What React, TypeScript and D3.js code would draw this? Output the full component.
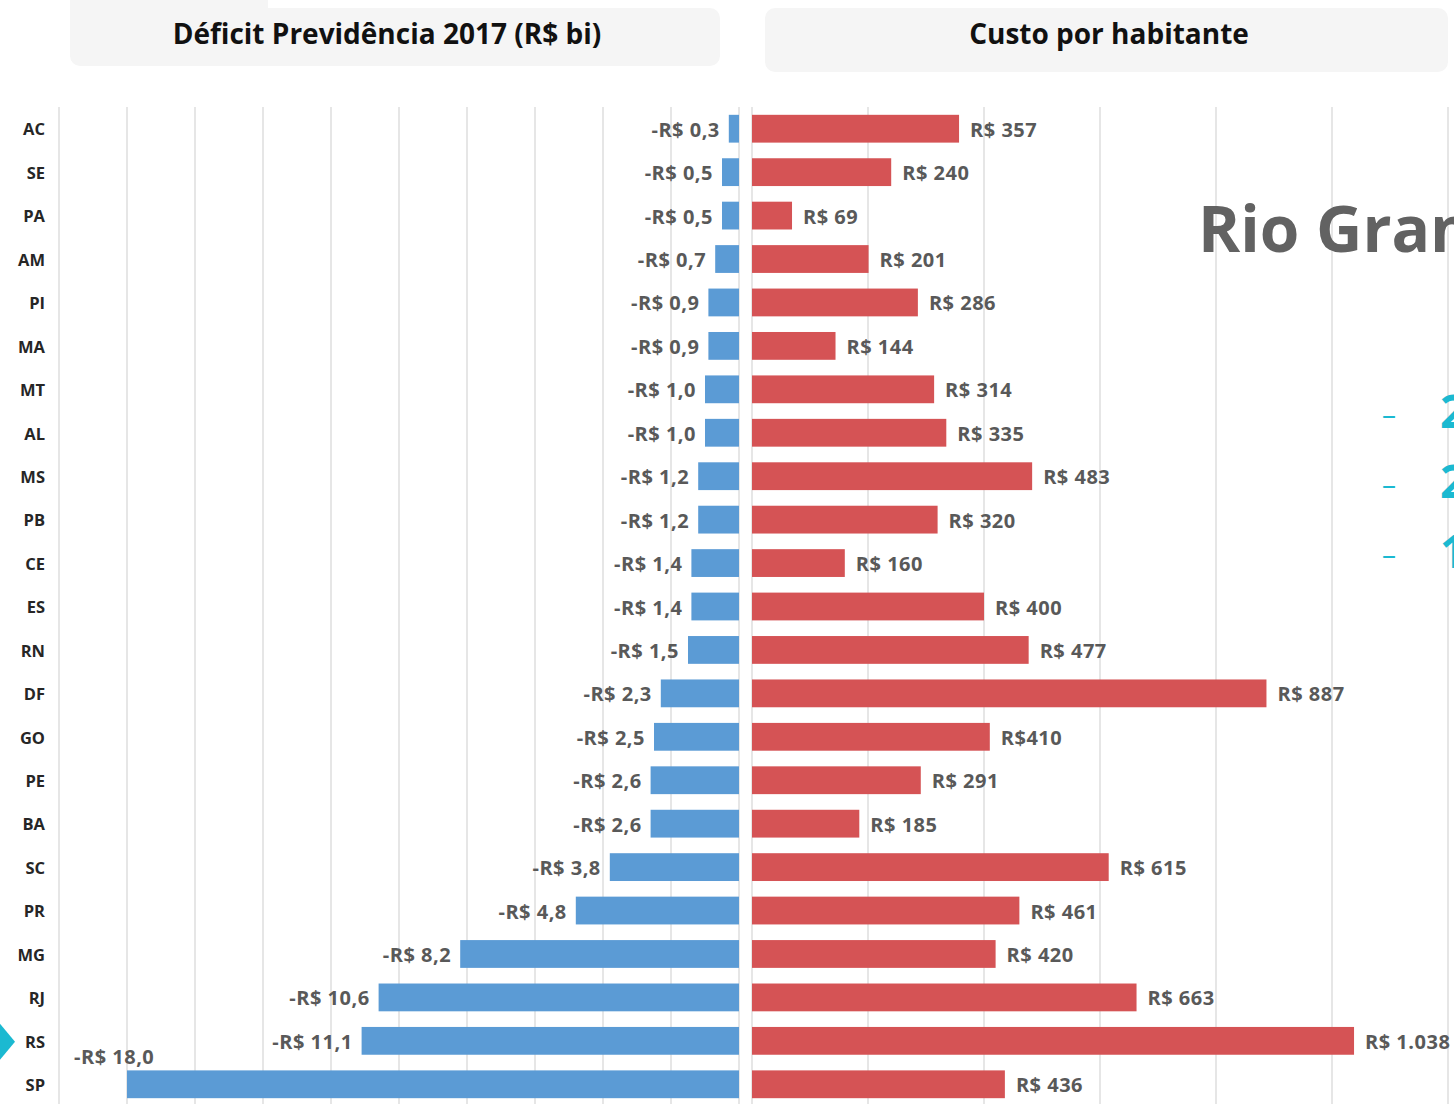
import * as d3 from 'd3';

const states = ['AC', 'SE', 'PA', 'AM', 'PI', 'MA', 'MT', 'AL', 'MS', 'PB', 'CE', 'ES', 'RN', 'DF', 'GO', 'PE', 'BA', 'SC', 'PR', 'MG', 'RJ', 'RS', 'SP'];
const deficit = [0.3, 0.5, 0.5, 0.7, 0.9, 0.9, 1.0, 1.0, 1.2, 1.2, 1.4, 1.4, 1.5, 2.3, 2.5, 2.6, 2.6, 3.8, 4.8, 8.2, 10.6, 11.1, 18.0];
const custo = [357, 240, 69, 201, 286, 144, 314, 335, 483, 320, 160, 400, 477, 887, 410, 291, 185, 615, 461, 420, 663, 1038, 436];
const custoLabels = ['R$ 357', 'R$ 240', 'R$ 69', 'R$ 201', 'R$ 286', 'R$ 144', 'R$ 314', 'R$ 335', 'R$ 483', 'R$ 320', 'R$ 160', 'R$ 400', 'R$ 477', 'R$ 887', 'R$410', 'R$ 291', 'R$ 185', 'R$ 615', 'R$ 461', 'R$ 420', 'R$ 663', 'R$ 1.038', 'R$ 436'];
const titles = ['Déficit Previdência 2017 (R$ bi)', 'Custo por habitante'];
const sideTitle = 'Rio Grande do Sul';
const sideItems = ['2', '2', '1'];
const highlight = 'RS';

const W = 1454;
const H = 1104;
const BLUE = '#5b9bd5';
const RED = '#d55355';
const GRID = '#d9d9d9';
const LABEL = '#595959';
const CYAN = '#1bb9d1';
const FONT = "'Open Sans', 'Noto Sans', sans-serif";

const fmtDeficit = (v: number) => `-R$ ${v.toFixed(1).replace('.', ',')}`;

export default function App() {
  const y = d3.scaleBand<string>().domain(states).range([107, 1106]).paddingInner(0.36).paddingOuter(0.18);
  const xLeft = d3.scaleLinear().domain([0, 20]).range([739, 59]);
  const xRight = d3.scaleLinear().domain([0, 1200]).range([752, 1448]);
  const bh = y.bandwidth();
  const cy = (s: string) => (y(s) ?? 0) + bh / 2 + 1;

  return (
    <svg width={W} height={H} style={{ position: 'absolute', left: 0, top: 0, background: '#fff' }} fontFamily={FONT}>
      {/* title boxes */}
      <rect x={70} y={0} width={198} height={30} fill="#f5f5f5" />
      <rect x={70} y={8} width={650} height={58} rx={10} fill="#f5f5f5" />
      <rect x={765} y={8} width={683} height={64} rx={10} fill="#f5f5f5" />
      <text x={387} y={44} textAnchor="middle" fontSize={28} fontWeight={700} fill="#111">{titles[0]}</text>
      <text x={1109} y={44} textAnchor="middle" fontSize={28} fontWeight={700} fill="#111">{titles[1]}</text>

      {/* gridlines */}
      {xLeft.ticks(10).map((t) => (
        <line key={`gl${t}`} x1={xLeft(t)} x2={xLeft(t)} y1={107} y2={H} stroke={GRID} strokeWidth={1.3} />
      ))}
      {xRight.ticks(6).map((t) => (
        <line key={`gr${t}`} x1={xRight(t)} x2={xRight(t)} y1={107} y2={H} stroke={GRID} strokeWidth={1.3} />
      ))}

      {/* side text */}
      <text x={1198} y={252} fontSize={64} fontWeight={700} fill="#626262">{sideTitle}</text>
      {sideItems.map((d, i) => (
        <g key={`si${i}`}>
          <text x={1382} y={424 + i * 70} fontSize={28} fontWeight={400} fill={CYAN}>–</text>
          <text x={1440} y={428 + i * 70} fontSize={46} fontWeight={700} fill={CYAN}>{d}</text>
        </g>
      ))}

      {/* category labels */}
      {states.map((s) => (
        <text key={`c${s}`} x={45} y={cy(s)} dy="0.35em" textAnchor="end" fontSize={16.5} fontWeight={700} fill="#262626">{s}</text>
      ))}

      {/* highlight arrow */}
      <path d={`M0,${cy(highlight) - 18} L15,${cy(highlight)} L0,${cy(highlight) + 18} Z`} fill={CYAN} />

      {/* deficit bars */}
      {states.map((s, i) => {
        const v = deficit[i];
        const x0 = xLeft(v);
        const above = x0 - 90 < 60;
        return (
          <g key={`d${s}`}>
            <rect x={x0} y={y(s)} width={xLeft(0) - x0} height={bh} fill={BLUE} />
            {above ? (
              <text x={x0 - 53} y={cy(s) - 21} fontSize={20} fontWeight={700} letterSpacing={0.5} fill={LABEL}>{fmtDeficit(v)}</text>
            ) : (
              <text x={x0 - 9} y={cy(s)} dy="0.35em" textAnchor="end" fontSize={20} fontWeight={700} letterSpacing={0.5} fill={LABEL}>{fmtDeficit(v)}</text>
            )}
          </g>
        );
      })}

      {/* custo bars */}
      {states.map((s, i) => {
        const v = custo[i];
        return (
          <g key={`r${s}`}>
            <rect x={xRight(0)} y={y(s)} width={xRight(v) - xRight(0)} height={bh} fill={RED} />
            <text x={xRight(v) + 11} y={cy(s)} dy="0.35em" fontSize={20} fontWeight={700} letterSpacing={0.5} fill={LABEL}>{custoLabels[i]}</text>
          </g>
        );
      })}
    </svg>
  );
}
